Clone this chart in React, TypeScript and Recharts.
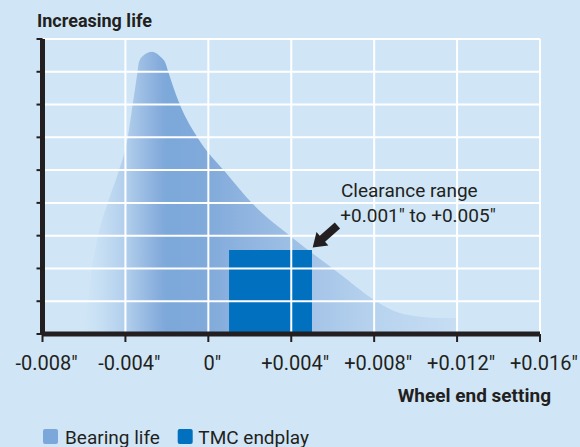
import React from "react";
import {
  ComposedChart,
  Area,
  XAxis,
  YAxis,
  ReferenceArea,
  ReferenceLine,
  ReferenceDot,
} from "recharts";

// ---- data ----
const bearingX = [
  -0.00602, -0.00583, -0.00564, -0.00535, -0.00487, -0.00434, -0.0039, -0.00366,
  -0.00342, -0.00336, -0.0032, -0.00271, -0.00231, -0.00207, -0.00193, -0.00135,
  -0.00048, 0.00082, 0.00217, 0.00405, 0.00627, 0.00815, 0.00902, 0.00988,
  0.01133, 0.012,
];
const bearingLife = [
  0, 0.88, 1.89, 2.93, 3.97, 4.94, 5.95, 6.96, 7.99, 8.27, 8.46, 8.61, 8.46, 8.27,
  7.99, 6.96, 5.95, 4.94, 3.95, 2.94, 1.87, 0.98, 0.69, 0.56, 0.49, 0.49,
];
const tmcRange = [0.001, 0.005];
const tmcHeight = 2.56;
const xTicks = [-0.008, -0.004, 0, 0.004, 0.008, 0.012, 0.016];
const yTicks = [0, 1, 2, 3, 4, 5, 6, 7, 8, 9];
const legendLabels = ["Bearing life", "TMC endplay"];
const annotationLines = ["Clearance range", '+0.001" to +0.005"'];

const BG = "#d0e6f6";
const DARK = "#231f20";
const LIFE = "#7ca7da";
const TMC = "#0070bf";
const FONT = "Roboto, 'Liberation Sans', Arial, sans-serif";

const data = bearingX.map((x, i) => ({ x, life: bearingLife[i] }));

const fmt = (v: number) => {
  if (v === 0) return '0"';
  return (v > 0 ? "+" : "-") + Math.abs(v).toFixed(3) + '"';
};

const XTick = (props: any) => {
  const { x, y, payload } = props;
  return (
    <text
      x={x + 4}
      y={y + 26}
      textAnchor="middle"
      fontFamily={FONT}
      fontSize={20}
      fill={DARK}
    >
      {fmt(payload.value)}
    </text>
  );
};

const ArrowShape = (props: any) => {
  const { cx, cy } = props;
  const pts = [
    [0, 0],
    [15.7, -1.8],
    [12.4, -5.6],
    [27.4, -18.8],
    [22.1, -24.8],
    [7.1, -11.6],
    [3.8, -15.3],
  ];
  const tx = cx + 0.7;
  const ty = cy - 2.7;
  return (
    <g>
      <polygon
        points={pts.map(([a, b]) => `${tx + a},${ty + b}`).join(" ")}
        fill={DARK}
      />
      <text x={tx + 28.3} y={ty - 50.6} fontFamily={FONT} fontSize={19} fill={DARK}>
        {annotationLines[0]}
      </text>
      <text x={tx + 27.6} y={ty - 25} fontFamily={FONT} fontSize={19} fill={DARK}>
        {annotationLines[1]}
      </text>
    </g>
  );
};

export default function App() {
  return (
    <div
      style={{
        position: "absolute",
        left: 0,
        top: 0,
        width: 580,
        height: 447,
        background: BG,
        overflow: "hidden",
      }}
    >
      <ComposedChart
        width={580}
        height={447}
        data={data}
        margin={{ top: 39, right: 40, bottom: 73, left: 36.5 }}
      >
        <defs>
          <linearGradient id="lifeGrad" x1="0" y1="0" x2="1" y2="0">
            <stop offset="0" stopColor="#d0e6f6" />
            <stop offset="0.04" stopColor="#c8e0f4" />
            <stop offset="0.117" stopColor="#b0cdeb" />
            <stop offset="0.2" stopColor="#86addc" />
            <stop offset="0.224" stopColor="#7ca8da" />
            <stop offset="0.33" stopColor="#80aada" />
            <stop offset="0.4" stopColor="#8bb1de" />
            <stop offset="0.6" stopColor="#a3c3e7" />
            <stop offset="0.8" stopColor="#b9d4ef" />
            <stop offset="1" stopColor="#c7def3" />
          </linearGradient>
        </defs>
        <Area
          type="monotone"
          dataKey="life"
          stroke="none"
          fill="url(#lifeGrad)"
          fillOpacity={1}
          isAnimationActive={false}
          activeDot={false}
          dot={false}
        />
        <ReferenceArea
          x1={tmcRange[0]}
          x2={tmcRange[1]}
          y1={0}
          y2={tmcHeight}
          fill={TMC}
          fillOpacity={1}
          stroke="none"
          zIndex={150}
        />
        {yTicks
          .filter((v) => v > 0)
          .map((v) => (
            <ReferenceLine
              key={"h" + v}
              y={v}
              stroke="#ffffff"
              strokeWidth={2}
              zIndex={450}
            />
          ))}
        {xTicks
          .filter((v) => v > xTicks[0])
          .map((v) => (
            <ReferenceLine
              key={"v" + v}
              x={v}
              stroke="#ffffff"
              strokeWidth={2}
              zIndex={450}
            />
          ))}
        <ReferenceDot
          x={tmcRange[1]}
          y={tmcHeight}
          r={0}
          shape={ArrowShape}
          zIndex={600}
        />
        <XAxis
          type="number"
          dataKey="x"
          domain={[xTicks[0], xTicks[xTicks.length - 1]]}
          ticks={xTicks}
          interval={0}
          allowDataOverflow
          height={40}
          tickSize={8}
          axisLine={{ stroke: DARK, strokeWidth: 5 }}
          tickLine={{ stroke: DARK, strokeWidth: 2 }}
          tick={<XTick />}
        />
        <YAxis
          type="number"
          domain={[yTicks[0], yTicks[yTicks.length - 1]]}
          ticks={yTicks}
          interval={0}
          allowDataOverflow
          width={6}
          tickSize={6}
          axisLine={{ stroke: DARK, strokeWidth: 5 }}
          tickLine={{ stroke: DARK, strokeWidth: 2 }}
          tickFormatter={() => ""}
        />
      </ComposedChart>
      <svg
        width={580}
        height={447}
        style={{ position: "absolute", left: 0, top: 0, pointerEvents: "none" }}
      >
        <text x={37} y={26.5} fontFamily={FONT} fontWeight="bold" fontSize={18} fill={DARK}>
          Increasing life
        </text>
        <text
          x={551}
          y={401.7}
          textAnchor="end"
          fontFamily={FONT}
          fontWeight="bold"
          fontSize={19}
          fill={DARK}
        >
          Wheel end setting
        </text>
        <rect x={43} y={429} width={15} height={15} rx={2} fill={LIFE} />
        <text x={65} y={443.5} fontFamily={FONT} fontSize={19} fill={DARK}>
          {legendLabels[0]}
        </text>
        <rect x={177.7} y={429} width={15} height={15} rx={2} fill={TMC} />
        <text x={198.3} y={443.5} fontFamily={FONT} fontSize={19} fill={DARK}>
          {legendLabels[1]}
        </text>
      </svg>
    </div>
  );
}
